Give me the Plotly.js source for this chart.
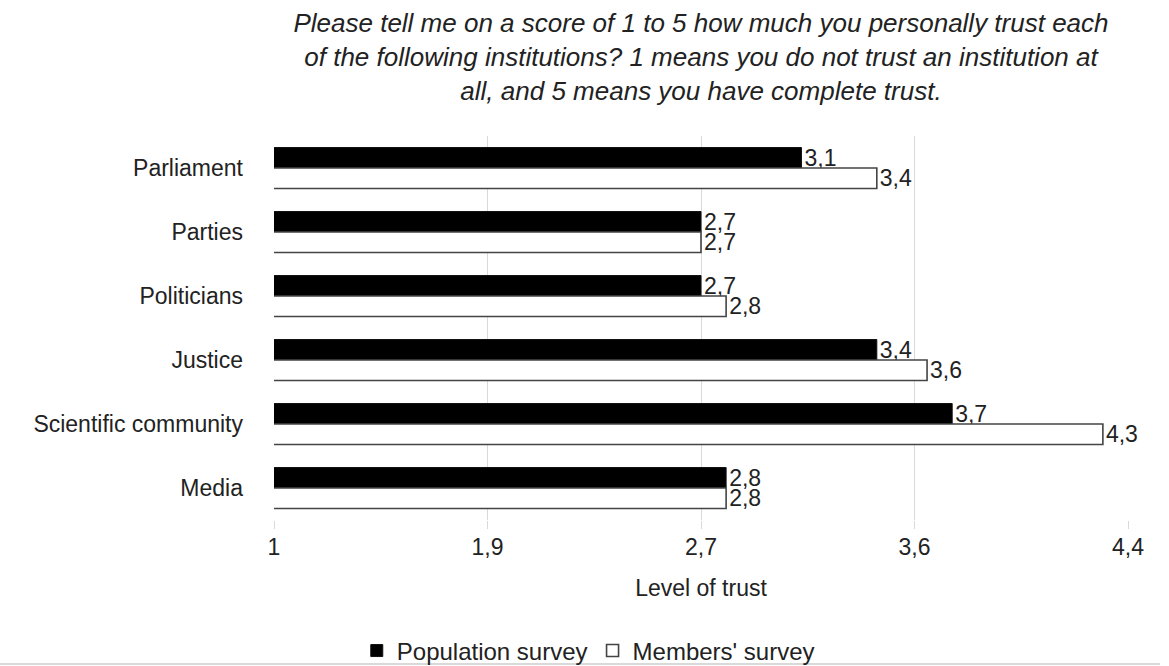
<!DOCTYPE html>
<html>
<head>
<meta charset="utf-8">
<script src="https://cdn.plot.ly/plotly-3.0.1.min.js"></script>
<style>html,body{margin:0;padding:0;background:#fff;}#chart{width:1169px;height:666px;}</style>
</head>
<body>
<div id="chart"></div>
<script>
const categories = ["Parliament", "Parties", "Politicians", "Justice", "Scientific community", "Media"];
const populationSurvey = [3.1, 2.7, 2.7, 3.4, 3.7, 2.8];
const membersSurvey = [3.4, 2.7, 2.8, 3.6, 4.3, 2.8];
const tickValues = [1, 1.85, 2.7, 3.55, 4.4];
const tickLabels = ["1", "1,9", "2,7", "3,6", "4,4"];
const seriesNames = ["Population survey", "Members' survey"];

const FONT = "Liberation Sans, Arial, Helvetica, sans-serif";
const FS = 23;

const traces = [
  {
    type: "bar", orientation: "h", name: seriesNames[0],
    y: categories, x: populationSurvey,
    marker: {color: "#000000", line: {color: "#111111", width: 1}},
    texttemplate: "%{x:.1f}", textposition: "outside", cliponaxis: false, constraintext: "none",
    textfont: {family: FONT, size: FS, color: "#222"}
  },
  {
    type: "bar", orientation: "h", name: seriesNames[1],
    y: categories, x: membersSurvey,
    marker: {color: "#ffffff", line: {color: "#444444", width: 1.6}},
    texttemplate: "%{x:.1f}", textposition: "outside", cliponaxis: false, constraintext: "none",
    textfont: {family: FONT, size: FS, color: "#222"}
  }
];

const layout = {
  width: 1169, height: 666,
  separators: ", ",
  paper_bgcolor: "#ffffff", plot_bgcolor: "#ffffff",
  font: {family: FONT, color: "#222"},
  margin: {l: 274, r: 41, t: 136, b: 146, autoexpand: false},
  barmode: "group", bargap: 0.36, bargroupgap: 0,
  title: {
    text: "<i>Please tell me on a score of 1 to 5 how much you personally trust each<br>of the following institutions? 1 means you do not trust an institution at<br>all, and 5 means you have complete trust.</i>",
    font: {family: FONT, size: 26, color: "#222"},
    x: 0.5, xref: "paper", xanchor: "center",
    y: 1, yref: "paper", yanchor: "bottom",
    pad: {b: 104}
  },
  xaxis: {
    range: [1, 4.4], tickvals: tickValues, ticktext: tickLabels,
    showgrid: true, gridcolor: "#d9d9d9", gridwidth: 1.2,
    zeroline: false, showline: false,
    ticks: "outside", ticklen: 8, tickcolor: "#d9d9d9",
    ticklabelstandoff: -2,
    tickfont: {family: FONT, size: FS, color: "#222"},
    title: {text: "Level of trust", font: {family: FONT, size: FS, color: "#222"}, standoff: 21}
  },
  yaxis: {
    categoryorder: "array", categoryarray: categories, autorange: "reversed",
    showgrid: false, zeroline: false, showline: false, ticks: "",
    ticklabelstandoff: 30,
    tickfont: {family: FONT, size: FS, color: "#222"}
  },
  showlegend: true,
  legend: {
    orientation: "h", x: 0.368, xanchor: "center", y: -0.341, yanchor: "middle",
    bgcolor: "rgba(0,0,0,0)",
    font: {family: FONT, size: 24, color: "#222"},
    traceorder: "normal", itemwidth: 30
  },
  shapes: [
    {type: "line", xref: "paper", yref: "paper",
     x0: (0 - 274) / 854, x1: (1160 - 274) / 854,
     y0: (520 - 664) / 384, y1: (520 - 664) / 384,
     line: {color: "#cccccc", width: 1.5}}
  ]
};

Plotly.newPlot("chart", traces, layout, {displayModeBar: false, responsive: false});
</script>
</body>
</html>
